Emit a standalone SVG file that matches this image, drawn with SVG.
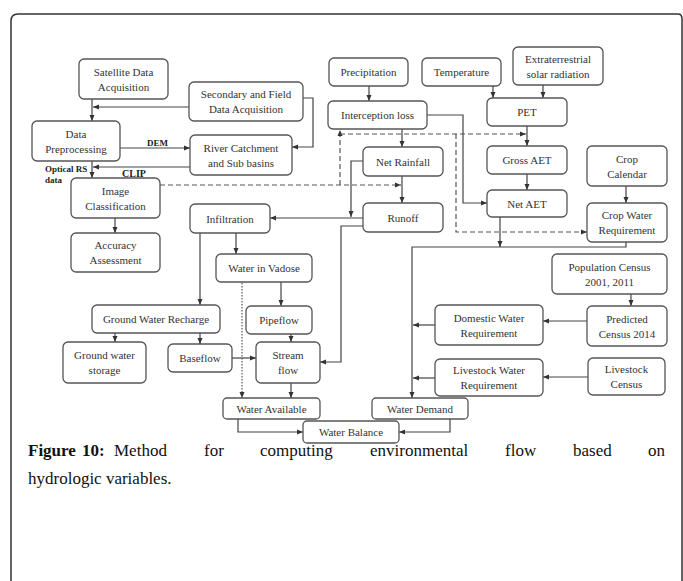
<svg xmlns="http://www.w3.org/2000/svg" width="683" height="581" viewBox="0 0 683 581">
<defs>
<marker id="arr" markerUnits="userSpaceOnUse" markerWidth="6" markerHeight="6" refX="6" refY="3" orient="auto">
<path d="M0,0.5 L6,3 L0,5.5 z" fill="#333"/>
</marker>
<style>
.box{fill:#fff;stroke:#555;stroke-width:1.3}
.t{font-family:"Liberation Serif","Times New Roman",serif;font-size:11px;fill:#333;text-anchor:middle}
.lb{font-family:"Liberation Serif","Times New Roman",serif;font-size:9px;font-weight:bold;fill:#222}
.c{fill:none;stroke:#444;stroke-width:1.2;marker-end:url(#arr)}
.d{fill:none;stroke:#555;stroke-width:1.2;stroke-dasharray:5,3;marker-end:url(#arr)}
.o{fill:none;stroke:#555;stroke-width:1.2;stroke-dasharray:1.5,1.5;marker-end:url(#arr)}
.cap{font-family:"Liberation Serif","Times New Roman",serif;font-size:17px;fill:#111}
</style>
</defs>
<rect width="683" height="581" fill="#fff"/>
<path d="M11,581 V21 Q11,14 18,14 H678 Q682,14 682,19 V581" fill="none" stroke="#333" stroke-width="1.5"/>

<g id="connectors">
<path class="c" d="M92,99 V121"/>
<path class="c" d="M189,107 H93"/>
<path class="c" d="M303,98 H313 V147 H292"/>
<path class="c" d="M120,148 H190"/>
<path class="c" d="M190,167 H93"/>
<path class="c" d="M92,161 V178"/>
<path class="c" d="M115,218 V233"/>
<path class="c" d="M369,86 V101"/>
<path class="c" d="M493,86 V98"/>
<path class="c" d="M543,85 V98"/>
<path class="c" d="M527,126 V146"/>
<path class="c" d="M527,174 V190"/>
<path class="c" d="M626,186 V203"/>
<path class="c" d="M402,129 V147"/>
<path class="c" d="M402,176 V203"/>
<path class="c" d="M427,115 H463 V203 H487"/>
<path class="c" d="M363,161 H351 V217"/>
<path class="c" d="M363,218 H270"/>
<path class="c" d="M363,226 H341 V362 H320"/>
<path class="c" d="M500,217 V247"/>
<path class="c" d="M626,242 V247 H412 V398"/>
<path class="c" d="M631,294 V306"/>
<path class="c" d="M587,321 H543"/>
<path class="c" d="M435,325 H413"/>
<path class="c" d="M588,377 H543"/>
<path class="c" d="M435,378 H413"/>
<path class="c" d="M236,233 V254"/>
<path class="c" d="M200,233 V305"/>
<path class="c" d="M281,282 V306"/>
<path class="c" d="M115,333 V342"/>
<path class="c" d="M200,333 V344"/>
<path class="c" d="M291,334 V342"/>
<path class="c" d="M232,358 H256"/>
<path class="c" d="M291,383 V398"/>
<path class="c" d="M238,419 V432 H303"/>
<path class="c" d="M450,419 V432 H399"/>
<path class="d" d="M160,185 H401"/>
<path class="d" d="M340,185 V130"/>
<path class="d" d="M340,134 H526"/>
<path class="d" d="M456,134 V232 H587"/>
<path class="o" d="M242,283 V398"/>
<text class="lb" x="147" y="146">DEM</text>
<text class="lb" x="45" y="172">Optical RS</text>
<text class="lb" x="45" y="183">data</text>
<text class="lb" x="122" y="177" style="font-size:10px">CLIP</text>
</g>

<g id="sat"><rect class="box" x="79" y="59" width="89" height="40" rx="5"/><text class="t" x="123.5" y="75.5">Satellite Data</text><text class="t" x="123.5" y="90.5">Acquisition</text></g>
<g id="sec"><rect class="box" x="189" y="82" width="114" height="39" rx="5"/><text class="t" x="246" y="98">Secondary and Field</text><text class="t" x="246" y="113">Data Acquisition</text></g>
<g id="dpp"><rect class="box" x="32" y="121" width="88" height="40" rx="5"/><text class="t" x="76" y="137.5">Data</text><text class="t" x="76" y="152.5">Preprocessing</text></g>
<g id="river"><rect class="box" x="190" y="135" width="102" height="40" rx="5"/><text class="t" x="241" y="151.5">River Catchment</text><text class="t" x="241" y="166.5">and Sub basins</text></g>
<g id="imgc"><rect class="box" x="71" y="178" width="89" height="40" rx="5"/><text class="t" x="115.5" y="194.5">Image</text><text class="t" x="115.5" y="209.5">Classification</text></g>
<g id="acc"><rect class="box" x="71" y="233" width="89" height="39" rx="5"/><text class="t" x="115.5" y="249">Accuracy</text><text class="t" x="115.5" y="264">Assessment</text></g>
<g id="infil"><rect class="box" x="190" y="204" width="80" height="29" rx="5"/><text class="t" x="230" y="222.5">Infiltration</text></g>
<g id="vadose"><rect class="box" x="216" y="254" width="96" height="28" rx="5"/><text class="t" x="264" y="272">Water in Vadose</text></g>
<g id="gwr"><rect class="box" x="92" y="305" width="128" height="28" rx="5"/><text class="t" x="156" y="323">Ground Water Recharge</text></g>
<g id="pipe"><rect class="box" x="246" y="306" width="66" height="28" rx="5"/><text class="t" x="279" y="324">Pipeflow</text></g>
<g id="gws"><rect class="box" x="63" y="342" width="83" height="41" rx="5"/><text class="t" x="104.5" y="359">Ground water</text><text class="t" x="104.5" y="374">storage</text></g>
<g id="base"><rect class="box" x="168" y="344" width="64" height="28" rx="5"/><text class="t" x="200" y="362">Baseflow</text></g>
<g id="stream"><rect class="box" x="256" y="342" width="64" height="41" rx="5"/><text class="t" x="288" y="359">Stream</text><text class="t" x="288" y="374">flow</text></g>
<g id="wavail"><rect class="box" x="223" y="398" width="97" height="21" rx="4"/><text class="t" x="271.5" y="412.5">Water Available</text></g>
<g id="wdem"><rect class="box" x="372" y="398" width="96" height="21" rx="4"/><text class="t" x="420" y="412.5">Water Demand</text></g>
<g id="wbal"><rect class="box" x="303" y="421" width="96" height="22" rx="4"/><text class="t" x="351" y="436">Water Balance</text></g>
<g id="precip"><rect class="box" x="329" y="58" width="79" height="28" rx="5"/><text class="t" x="368.5" y="76">Precipitation</text></g>
<g id="temp"><rect class="box" x="422" y="58" width="79" height="28" rx="5"/><text class="t" x="461.5" y="76">Temperature</text></g>
<g id="extra"><rect class="box" x="513" y="47" width="90" height="38" rx="5"/><text class="t" x="558" y="62.5">Extraterrestrial</text><text class="t" x="558" y="77.5">solar radiation</text></g>
<g id="intl"><rect class="box" x="328" y="101" width="99" height="28" rx="5"/><text class="t" x="377.5" y="119">Interception loss</text></g>
<g id="pet"><rect class="box" x="487" y="98" width="80" height="28" rx="5"/><text class="t" x="527" y="116">PET</text></g>
<g id="netr"><rect class="box" x="363" y="147" width="80" height="29" rx="5"/><text class="t" x="403" y="165.5">Net Rainfall</text></g>
<g id="gaet"><rect class="box" x="487" y="146" width="80" height="28" rx="5"/><text class="t" x="527" y="164">Gross AET</text></g>
<g id="cropc"><rect class="box" x="587" y="146" width="80" height="40" rx="5"/><text class="t" x="627" y="162.5">Crop</text><text class="t" x="627" y="177.5">Calendar</text></g>
<g id="naet"><rect class="box" x="487" y="190" width="80" height="27" rx="5"/><text class="t" x="527" y="207.5">Net AET</text></g>
<g id="runoff"><rect class="box" x="363" y="203" width="80" height="29" rx="5"/><text class="t" x="403" y="221.5">Runoff</text></g>
<g id="cwr"><rect class="box" x="587" y="203" width="80" height="39" rx="5"/><text class="t" x="627" y="219">Crop Water</text><text class="t" x="627" y="234">Requirement</text></g>
<g id="pop"><rect class="box" x="552" y="254" width="115" height="40" rx="5"/><text class="t" x="609.5" y="270.5">Population Census</text><text class="t" x="609.5" y="285.5">2001, 2011</text></g>
<g id="pred"><rect class="box" x="587" y="306" width="80" height="40" rx="5"/><text class="t" x="627" y="322.5">Predicted</text><text class="t" x="627" y="337.5">Census 2014</text></g>
<g id="dom"><rect class="box" x="435" y="305" width="108" height="40" rx="5"/><text class="t" x="489" y="321.5">Domestic Water</text><text class="t" x="489" y="336.5">Requirement</text></g>
<g id="lwr"><rect class="box" x="435" y="359" width="108" height="37" rx="5"/><text class="t" x="489" y="374">Livestock Water</text><text class="t" x="489" y="389">Requirement</text></g>
<g id="lc"><rect class="box" x="588" y="358" width="77" height="37" rx="5"/><text class="t" x="626.5" y="373">Livestock</text><text class="t" x="626.5" y="388">Census</text></g>

<g id="caption">
<text class="cap" y="456"><tspan x="28" font-weight="bold">Figure</tspan><tspan x="82" font-weight="bold">10:</tspan><tspan x="114">Method</tspan><tspan x="204">for</tspan><tspan x="260">computing</tspan><tspan x="370">environmental</tspan><tspan x="505">flow</tspan><tspan x="573">based</tspan><tspan x="648">on</tspan></text>
<text class="cap" x="28" y="484">hydrologic variables.</text>
</g>
</svg>
